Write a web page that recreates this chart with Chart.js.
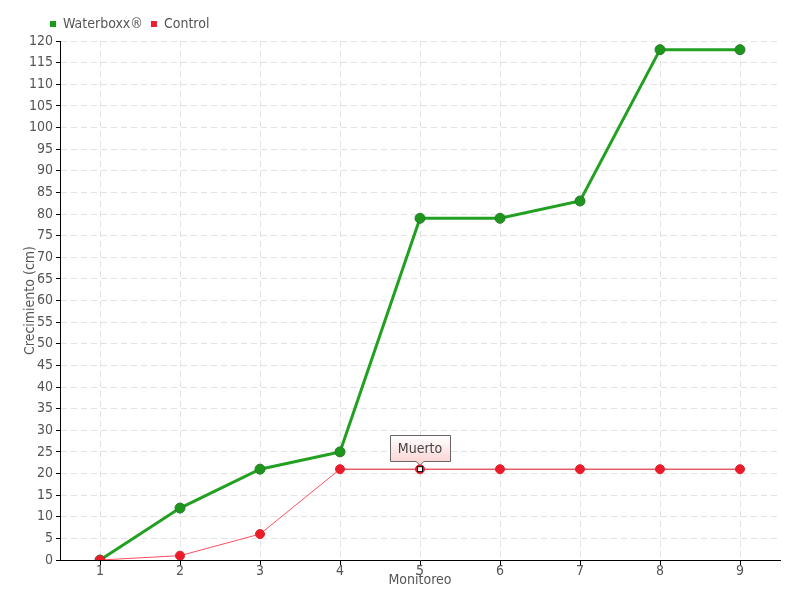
<!DOCTYPE html>
<html>
<head>
<meta charset="utf-8">
<script src="https://cdn.jsdelivr.net/npm/chart.js@4/dist/chart.umd.min.js"></script>
<style>
html,body{margin:0;padding:0;background:#fff;}
#wrap{width:800px;height:600px;position:relative;}
</style>
</head>
<body>
<div id="wrap"><canvas id="c" width="800" height="600"></canvas></div>
<script>
const categories = ['1','2','3','4','5','6','7','8','9'];
const waterboxx = [0, 12, 21, 25, 79, 79, 83, 118, 118];
const control = [0, 1, 6, 21, 21, 21, 21, 21, 21];
const annotationLabel = 'Muerto';
const annotationIndex = 4;

const FONT = "'DejaVu Sans', sans-serif";
const TXT = '#555';

const condensedPlugin = {
  id: 'condensed',
  beforeUpdate(chart) { try { chart.ctx.fontStretch = 'condensed'; } catch (e) {} },
  beforeDraw(chart) { try { chart.ctx.fontStretch = 'condensed'; } catch (e) {} },
  afterLayout(chart) {
    if (chart.legend) { chart.legend.left += 42; chart.legend.right += 42; }
  }
};

const annotationPlugin = {
  id: 'muerto',
  afterDatasetsDraw(chart) {
    const ctx = chart.ctx;
    const meta = chart.getDatasetMeta(1);
    const pt = meta.data[annotationIndex];
    if (!pt) return;
    const x = pt.x, y = pt.y;
    ctx.save();
    ctx.fillStyle = '#fff';
    ctx.strokeStyle = '#000';
    ctx.lineWidth = 1;
    ctx.fillRect(x - 2.5, y - 2.5, 5, 5);
    ctx.strokeRect(x - 2.5, y - 2.5, 5, 5);
    const w = 60, h = 26;
    const bx = Math.round(x - w / 2) + 0.5, by = Math.round(y - 34) + 0.5;
    const g = ctx.createLinearGradient(0, by, 0, by + h);
    g.addColorStop(0, '#ffffff');
    g.addColorStop(1, '#fbd6d6');
    ctx.beginPath();
    ctx.moveTo(bx, by);
    ctx.lineTo(bx + w, by);
    ctx.lineTo(bx + w, by + h);
    ctx.lineTo(x + 4, by + h);
    ctx.lineTo(x, y - 4);
    ctx.lineTo(x - 4, by + h);
    ctx.lineTo(bx, by + h);
    ctx.closePath();
    ctx.fillStyle = g;
    ctx.fill();
    ctx.strokeStyle = '#666';
    ctx.stroke();
    ctx.fillStyle = '#444';
    ctx.font = '14px ' + FONT;
    try { ctx.fontStretch = 'condensed'; } catch (e) {}
    ctx.textAlign = 'center';
    ctx.textBaseline = 'middle';
    ctx.fillText(annotationLabel, x, by + h / 2 + 1);
    ctx.restore();
  }
};

new Chart(document.getElementById('c'), {
  type: 'line',
  data: {
    labels: categories,
    datasets: [
      {
        label: 'Waterboxx®',
        data: waterboxx,
        order: 1,
        borderColor: '#22a022',
        backgroundColor: '#1a9a1a',
        borderWidth: 3,
        pointRadius: 5,
        pointHoverRadius: 5,
        pointBackgroundColor: '#1e961e',
        pointBorderColor: '#2a7a2a',
        pointBorderWidth: 1,
        tension: 0
      },
      {
        label: 'Control',
        data: control,
        order: 0,
        borderColor: '#ff4f5f',
        backgroundColor: '#ee1c2c',
        borderWidth: 1,
        pointRadius: 4.5,
        pointHoverRadius: 4.5,
        pointBackgroundColor: '#ea1c2a',
        pointBorderColor: '#ea1c2a',
        pointBorderWidth: 1,
        segment: {
          borderColor: c => c.p0DataIndex >= 3 ? '#d4101c' : '#ff4f5f'
        },
        tension: 0
      }
    ]
  },
  options: {
    responsive: false,
    animation: false,
    layout: { padding: { left: 0, right: 20, top: 9, bottom: 0 } },
    plugins: {
      legend: {
        display: true,
        align: 'start',
        labels: {
          font: { family: FONT, size: 14 },
          color: TXT,
          boxWidth: 6,
          boxHeight: 6,
          padding: 8,
          generateLabels(chart) {
            return chart.data.datasets.map((d, i) => ({
              text: d.label,
              fillStyle: d.backgroundColor,
              strokeStyle: d.backgroundColor,
              lineWidth: 0,
              fontColor: TXT,
              datasetIndex: i
            }));
          }
        }
      },
      tooltip: { enabled: false }
    },
    scales: {
      x: {
        offset: true,
        grid: { color: '#e2e2e2', tickColor: '#000', tickLength: 5, offset: false, tickBorderDash: [] },
        border: { color: '#000', width: 1, dash: [6, 4] },
        ticks: { font: { family: FONT, size: 14 }, color: TXT, padding: -2 },
        title: { display: true, text: 'Monitoreo', font: { family: FONT, size: 14 }, color: TXT, padding: { top: 0, bottom: 11 } },
        afterFit(s) { s.height = 40; }
      },
      y: {
        min: 0,
        max: 120,
        ticks: { stepSize: 5, font: { family: FONT, size: 14 }, color: TXT, padding: 3 },
        grid: { color: '#e2e2e2', tickColor: '#000', tickLength: 4, tickBorderDash: [] },
        border: { color: '#000', width: 1, dash: [6, 4] },
        title: { display: true, text: 'Crecimiento (cm)', font: { family: FONT, size: 14 }, color: TXT, padding: { top: 22, bottom: 0 } },
        afterFit(s) { s.width = 60; }
      }
    }
  },
  plugins: [condensedPlugin, annotationPlugin]
});
</script>
</body>
</html>
